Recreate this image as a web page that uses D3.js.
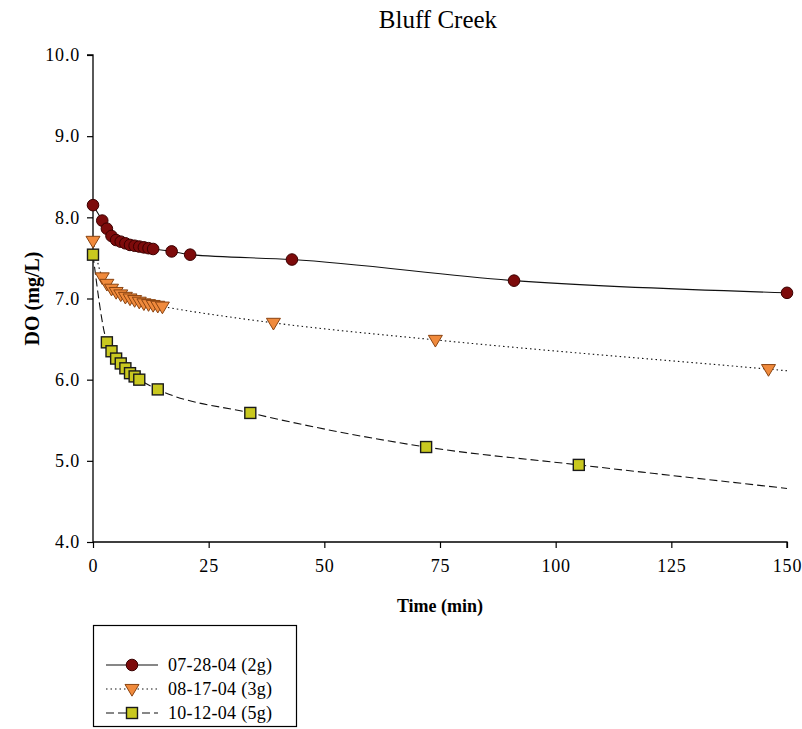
<!DOCTYPE html>
<html>
<head>
<meta charset="utf-8">
<script src="https://cdn.jsdelivr.net/npm/d3@7"></script>
<style>
  html, body { margin: 0; padding: 0; background: #fff; }
  svg { display: block; }
  text { font-family: "Liberation Serif", "Times New Roman", serif; fill: #000; }
</style>
</head>
<body>
<svg id="chart" width="802" height="729"></svg>
<script>
// ---- data ----
const seriesNames = ["07-28-04 (2g)", "08-17-04 (3g)", "10-12-04 (5g)"];

const times1 = [0, 2, 3, 4, 5, 6, 7, 8, 9, 10, 11, 12, 13, 17, 21, 43, 91, 150];
const do1    = [8.15, 7.96, 7.86, 7.77, 7.72, 7.70, 7.68, 7.66, 7.65, 7.64, 7.63, 7.62, 7.61, 7.58, 7.54, 7.48, 7.22, 7.07];

const times2 = [0, 2, 3, 4, 5, 6, 7, 8, 9, 10, 11, 12, 13, 14, 15, 39, 74, 146];
const do2    = [7.71, 7.26, 7.18, 7.12, 7.08, 7.05, 7.02, 7.00, 6.98, 6.96, 6.94, 6.93, 6.92, 6.91, 6.90, 6.70, 6.49, 6.13];

const times3 = [0, 3, 4, 5, 6, 7, 8, 9, 10, 14, 34, 72, 105];
const do3    = [7.54, 6.46, 6.35, 6.26, 6.20, 6.14, 6.08, 6.04, 6.00, 5.88, 5.59, 5.17, 4.95];

// line continuation to the right edge (line only, no marker)
const lineEndTime = 150;
const lineEndValues = [7.07, 6.11, 4.66];

const xTicks = [0, 25, 50, 75, 100, 125, 150];
const yTicks = [4, 5, 6, 7, 8, 9, 10];

// ---- layout ----
const svg = d3.select("#chart");
const margin = { left: 93, right: 15, top: 55, bottom: 187 };
const W = 802, H = 729;
const x = d3.scaleLinear().domain([0, 150]).range([margin.left, W - margin.right]);
const y = d3.scaleLinear().domain([4, 10]).range([H - margin.bottom, margin.top]);

const styles = [
  { dash: null,    marker: "circle",   fill: "#7d0b0b", stroke: "#3a0000" },
  { dash: "1.5,3", marker: "triangle", fill: "#f08a3c", stroke: "#8a4412" },
  { dash: "8,4",   marker: "square",   fill: "#c9c81f", stroke: "#1a1a1a" }
];

const series = [
  { t: times1, v: do1 },
  { t: times2, v: do2 },
  { t: times3, v: do3 }
].map((s, i) => {
  const pts = s.t.map((t, j) => ({ t, v: s.v[j] }));
  const linePts = pts.slice();
  if (linePts[linePts.length - 1].t < lineEndTime) linePts.push({ t: lineEndTime, v: lineEndValues[i] });
  return { name: seriesNames[i], pts, linePts, style: styles[i] };
});

// title
svg.append("text").attr("x", 438).attr("y", 28)
  .attr("text-anchor", "middle").style("font-size", "25px").text("Bluff Creek");

// axes
const yAxis = d3.axisLeft(y).tickValues(yTicks).tickFormat(d3.format(".1f")).tickSize(6).tickPadding(7);
const gy = svg.append("g").attr("transform", `translate(${x(0)},0)`).call(yAxis);
const xAxis = d3.axisBottom(x).tickValues(xTicks).tickFormat(d3.format("d")).tickSize(6).tickPadding(11);
const gx = svg.append("g").attr("transform", `translate(0,${y(4)})`).call(xAxis);
[gx, gy].forEach(g => {
  g.selectAll("path.domain").attr("stroke", "#000").attr("stroke-width", 1.3);
  g.selectAll(".tick line").attr("stroke", "#000").attr("stroke-width", 1.2);
  g.selectAll(".tick text").style("font-family", "'Liberation Serif', 'Times New Roman', serif")
    .style("font-size", "18px").style("letter-spacing", "0.8px").attr("fill", "#222");
});
gy.select("path.domain").attr("d", `M-6,${y(10)}H0V${y(4)}`);
gx.select("path.domain").attr("d", `M${x(0)},0H${x(150)}V6`);

// axis titles
svg.append("text").attr("x", (x(0) + x(150)) / 2).attr("y", 612)
  .attr("text-anchor", "middle").style("font-size", "18px").style("font-weight", "bold").text("Time (min)");
svg.append("text").attr("transform", `translate(39,${(y(4) + y(10)) / 2}) rotate(-90)`)
  .attr("text-anchor", "middle").style("font-size", "20px").style("font-weight", "bold").text("DO (mg/L)");

// lines
const line = d3.line().x(d => x(d.t)).y(d => y(d.v)).curve(d3.curveMonotoneX);
series.forEach(s => {
  svg.append("path").datum(s.linePts).attr("d", line)
    .attr("fill", "none").attr("stroke", "#111").attr("stroke-width", 1.1)
    .attr("stroke-dasharray", s.style.dash);
});

// markers
function drawMarker(g, type, cx, cy, st) {
  if (type === "circle") {
    g.append("circle").attr("cx", cx).attr("cy", cy).attr("r", 5.8)
      .attr("fill", st.fill).attr("stroke", st.stroke).attr("stroke-width", 1);
  } else if (type === "triangle") {
    const w = 7, h = 6.5;
    g.append("path").attr("d", `M${cx - w},${cy - h * 0.7}L${cx + w},${cy - h * 0.7}L${cx},${cy + h * 1.1}Z`)
      .attr("fill", st.fill).attr("stroke", st.stroke).attr("stroke-width", 1);
  } else {
    const s = 11;
    g.append("rect").attr("x", cx - s / 2).attr("y", cy - s / 2).attr("width", s).attr("height", s)
      .attr("fill", st.fill).attr("stroke", st.stroke).attr("stroke-width", 1.4);
  }
}
series.forEach(s => {
  const g = svg.append("g");
  s.pts.forEach(p => drawMarker(g, s.style.marker, x(p.t), y(p.v), s.style));
});

// legend
const lg = svg.append("g");
lg.append("rect").attr("x", 93.5).attr("y", 625.5).attr("width", 203).attr("height", 101)
  .attr("fill", "#fff").attr("stroke", "#000").attr("stroke-width", 1.2);
series.forEach((s, i) => {
  const cy = 665 + i * 24;
  lg.append("line").attr("x1", 106).attr("x2", 158).attr("y1", cy).attr("y2", cy)
    .attr("stroke", "#111").attr("stroke-width", 1.1).attr("stroke-dasharray", s.style.dash);
  drawMarker(lg, s.style.marker, 132, cy, s.style);
  lg.append("text").attr("x", 168).attr("y", cy + 6).style("font-size", "18px")
    .style("letter-spacing", "0.3px").attr("fill", "#222").text(s.name);
});
</script>
</body>
</html>
